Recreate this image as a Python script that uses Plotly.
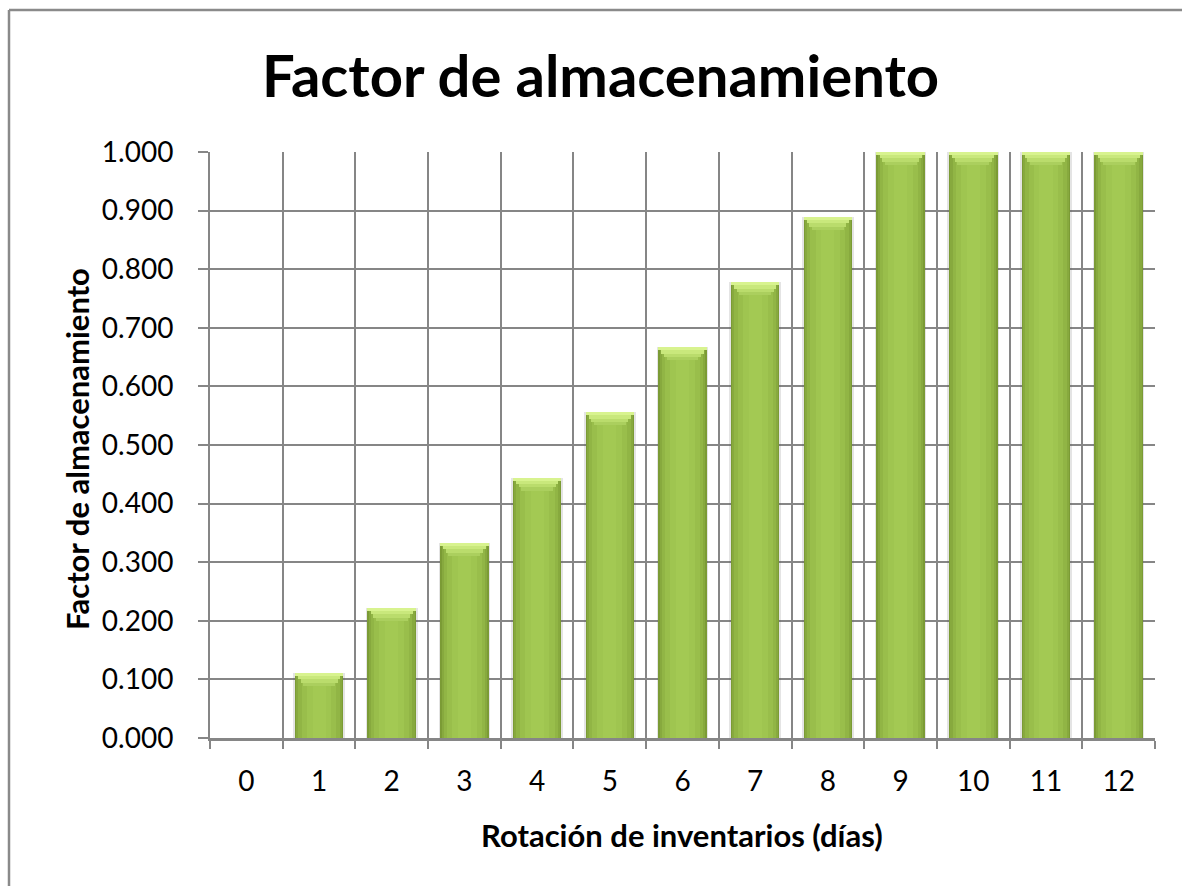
import plotly.graph_objects as go

# Data
dias = ["0", "1", "2", "3", "4", "5", "6", "7", "8", "9", "10", "11", "12"]
factor = [0.000, 0.111, 0.222, 0.333, 0.444, 0.556, 0.667, 0.778, 0.889, 1.000, 1.000, 1.000, 1.000]
y_ticks = [0.0, 0.1, 0.2, 0.3, 0.4, 0.5, 0.6, 0.7, 0.8, 0.9, 1.0]

titulo = "Factor de almacenamiento"
titulo_x = "Rotación de inventarios (días)"
titulo_y = "Factor de almacenamiento"

# Layout geometry (pixels)
W, H = 1182, 886
PL, PR, PT, PB = 210, 1155, 152, 738
pw, ph = PR - PL, PB - PT


def px(x):
    return (x - PL) / pw


def py(y):
    return (PB - y) / ph


FONT = "Lato"
GRID = "#868686"

fig = go.Figure()

# soft shadow behind each bar
fig.add_trace(go.Bar(x=dias, y=factor, width=0.71,
                     marker=dict(color="rgba(90,90,90,0.16)", line=dict(width=0)),
                     hoverinfo="skip", showlegend=False))

# horizontal shading of the bar body, dark edges to bright centre
body_layers = [
    (0.667, "#7B9B35"),
    (0.63, "#87A93E"),
    (0.57, "#91B545"),
    (0.48, "#99BE4B"),
    (0.34, "#9FC550"),
    (0.18, "#A3C953"),
]
for w, c in body_layers:
    fig.add_trace(go.Bar(x=dias, y=factor, width=w,
                         marker=dict(color=c, line=dict(width=0)),
                         hoverinfo="skip", showlegend=False))

# bevelled highlight at the top of each bar (a trapezoid built from thin slices)
bevel_layers = [
    (0.022, 0.0055, 0.44, "#ABCF5E"),
    (0.0165, 0.0055, 0.51, "#BADC6C"),
    (0.011, 0.0055, 0.58, "#C9E87C"),
    (0.0055, 0.0055, 0.667, "#D8F38F"),
]
for off, h, w, c in bevel_layers:
    fig.add_trace(go.Bar(x=dias,
                         y=[h if v > 0 else 0 for v in factor],
                         base=[v - off if v > 0 else 0 for v in factor],
                         width=w,
                         marker=dict(color=c, line=dict(width=0)),
                         hoverinfo="skip", showlegend=False))

fig.update_layout(
    width=W, height=H, autosize=False,
    margin=dict(l=PL, r=W - PR, t=PT, b=H - PB, pad=0),
    paper_bgcolor="white", plot_bgcolor="white",
    barmode="overlay", bargap=0,
    showlegend=False,
    font=dict(family=FONT, color="black"),
    xaxis=dict(
        type="category", tickson="boundaries",
        showgrid=True, gridcolor=GRID, gridwidth=2,
        showline=True, linecolor=GRID, linewidth=2.5,
        ticks="outside", ticklen=8, tickwidth=2, tickcolor=GRID,
        tickfont=dict(size=28, family=FONT, color="black"),
        ticklabelstandoff=17,
        zeroline=False, fixedrange=True,
    ),
    yaxis=dict(
        range=[0, 1], tickvals=y_ticks, tickformat=".3f",
        showgrid=True, gridcolor=GRID, gridwidth=2,
        showline=True, linecolor=GRID, linewidth=2,
        ticks="outside", ticklen=10, tickwidth=2, tickcolor=GRID,
        tickfont=dict(size=28, family=FONT, color="black"),
        ticklabelstandoff=19,
        zeroline=False, fixedrange=True,
    ),
    annotations=[
        dict(text=f"<b>{titulo}</b>", x=px(600), y=py(75), xref="paper", yref="paper",
             xanchor="center", yanchor="middle", showarrow=False,
             font=dict(size=58, family=FONT, color="black")),
        dict(text=f"<b>{titulo_x}</b>", x=px(682), y=py(835), xref="paper", yref="paper",
             xanchor="center", yanchor="middle", showarrow=False,
             font=dict(size=31, family=FONT, color="black")),
        dict(text=f"<b>{titulo_y}</b>", x=px(77), y=py(449), xref="paper", yref="paper",
             xanchor="center", yanchor="middle", textangle=-90, showarrow=False,
             font=dict(size=31, family=FONT, color="black")),
    ],
    shapes=[
        dict(type="line", xref="paper", yref="paper",
             x0=px(9), x1=px(W + 5), y0=py(10), y1=py(10),
             line=dict(color="#8A8A8A", width=2.5)),
        dict(type="line", xref="paper", yref="paper",
             x0=px(9), x1=px(9), y0=py(10), y1=py(H + 5),
             line=dict(color="#8A8A8A", width=2.5)),
    ],
)

fig.write_html("out.html")
